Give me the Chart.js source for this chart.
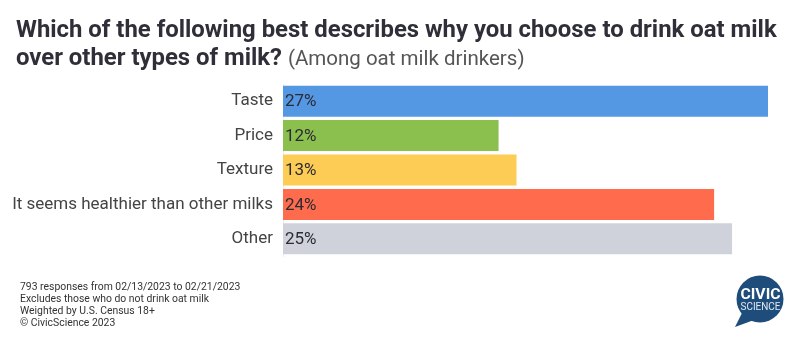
<!DOCTYPE html>
<html>
<head>
<meta charset="utf-8">
<script src="https://cdn.jsdelivr.net/npm/chart.js@4"></script>
<style>
  html, body { margin:0; padding:0; background:#fff; }
  body { width:811px; height:355px; position:relative; overflow:hidden; font-family: Roboto, "Noto Sans", sans-serif; }
  #title { position:absolute; left:16px; top:15px; width:795px; font-weight:700; font-size:23.9px; line-height:28px; color:#2e2f38; white-space:nowrap; }
  #title .sub { font-weight:400; font-size:20.5px; color:#555; }
  #wrap { position:absolute; left:0; top:0; width:811px; height:355px; }
  #foot { position:absolute; left:20px; top:281px; font-size:10.4px; line-height:12px; color:#333; }
  #logo { position:absolute; left:730px; top:270px; }
</style>
</head>
<body>
<div id="wrap"><canvas id="c" width="811" height="355"></canvas></div>
<div id="title">Which of the following best describes why you choose to drink oat milk<br>over other types of milk? <span class="sub">(Among oat milk drinkers)</span></div>
<div id="foot">793 responses from 02/13/2023 to 02/21/2023<br>Excludes those who do not drink oat milk<br>Weighted by U.S. Census 18+<br>© CivicScience 2023</div>
<svg id="logo" width="62" height="62" viewBox="0 0 62 62">
  <circle cx="30" cy="29" r="23.5" fill="#1e4d7b"/>
  <path d="M12 43 L5 57 L24 50 Z" fill="#1e4d7b"/>
  <text x="30.5" y="28.5" text-anchor="middle" font-family="Roboto, sans-serif" font-weight="700" font-size="15.5" fill="#fff" textLength="40" lengthAdjust="spacingAndGlyphs">CIVIC</text>
  <text x="30.5" y="40" text-anchor="middle" font-family="Roboto, sans-serif" font-weight="400" font-size="11" fill="#dfe8f2" textLength="40" lengthAdjust="spacingAndGlyphs">SCIENCE</text>
</svg>
<script>
const categories = ["Taste", "Price", "Texture", "It seems healthier than other milks", "Other"];
const values = [27, 12, 13, 24, 25];
const valueLabels = ["27%", "12%", "13%", "24%", "25%"];
const barColors = ["#5497e3", "#8bc04f", "#fccc55", "#ff6b4d", "#cfd2db"];

const insideLabels = {
  id: 'insideLabels',
  afterDatasetsDraw(chart) {
    const ctx = chart.ctx;
    const meta = chart.getDatasetMeta(0);
    ctx.save();
    ctx.font = '17px Roboto';
    ctx.fillStyle = '#2b2b33';
    ctx.textAlign = 'left';
    ctx.textBaseline = 'middle';
    meta.data.forEach((bar, i) => {
      ctx.fillText(valueLabels[i], bar.base + 2, bar.y + 1);
    });
    ctx.restore();
  }
};

new Chart(document.getElementById('c'), {
  type: 'bar',
  data: {
    labels: categories,
    datasets: [{
      data: values,
      backgroundColor: barColors,
      borderWidth: 0,
      categoryPercentage: 0.9,
      barPercentage: 1.0
    }]
  },
  options: {
    indexAxis: 'y',
    responsive: false,
    animation: false,
    devicePixelRatio: 1,
    layout: { padding: { top: 84, bottom: 99, right: 43, left: 0 } },
    plugins: { legend: { display: false }, tooltip: { enabled: false } },
    scales: {
      x: { display: false, min: 0, max: 27 },
      y: {
        grid: { display: false, drawTicks: false },
        border: { display: true, color: '#eeeeee' },
        ticks: { color: '#444', font: { family: 'Roboto', size: 17 }, padding: 10 },
        afterFit(scale) { scale.width = 283; }
      }
    }
  },
  plugins: [insideLabels]
});
</script>
</body>
</html>
